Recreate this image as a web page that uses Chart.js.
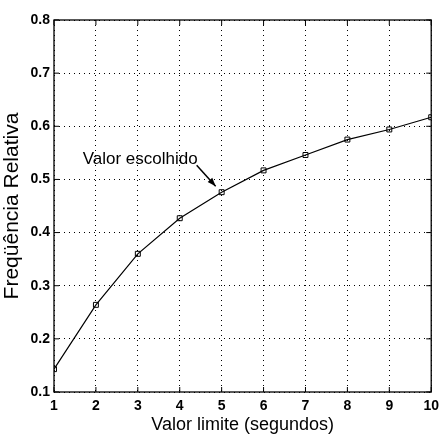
<!DOCTYPE html>
<html>
<head>
<meta charset="utf-8">
<script src="https://cdn.jsdelivr.net/npm/chart.js@4/dist/chart.umd.min.js"></script>
<style>
  html, body { margin: 0; padding: 0; background: #fff; }
  #wrap { width: 445px; height: 437px; }
</style>
</head>
<body>
<div id="wrap"><canvas id="freq-chart"></canvas></div>
<script>
// limite em segundos e frequência relativa correspondente
const limites = [1, 2, 3, 4, 5, 6, 7, 8, 9, 10];
const frequencias = [0.143, 0.264, 0.360, 0.427, 0.476, 0.517, 0.546, 0.575, 0.594, 0.617];
const yTicks = [0.1, 0.2, 0.3, 0.4, 0.5, 0.6, 0.7, 0.8];
// ponto marcado como valor escolhido
const escolhido = 5;

const fonte = "'Liberation Sans Narrow', 'Liberation Sans', Arial, sans-serif";

// moldura, marcas internas dos eixos e a seta com o texto
const moldura = {
  id: "moldura",
  afterDatasetsDraw(chart) {
    const { ctx, chartArea: a, scales } = chart;
    ctx.save();
    ctx.strokeStyle = "#000";
    ctx.lineWidth = 1.3;
    ctx.strokeRect(a.left, a.top, a.right - a.left, a.bottom - a.top);

    ctx.lineWidth = 1;
    ctx.beginPath();
    limites.forEach((v) => {
      const x = scales.x.getPixelForValue(v);
      ctx.moveTo(x, a.bottom); ctx.lineTo(x, a.bottom - 5);
      ctx.moveTo(x, a.top); ctx.lineTo(x, a.top + 5);
    });
    yTicks.forEach((v) => {
      const y = scales.y.getPixelForValue(v);
      ctx.moveTo(a.left, y); ctx.lineTo(a.left + 5, y);
      ctx.moveTo(a.right, y); ctx.lineTo(a.right - 5, y);
    });
    ctx.stroke();

    // seta apontando para o valor escolhido
    const i = limites.indexOf(escolhido);
    const px = scales.x.getPixelForValue(escolhido) - 6;
    const py = scales.y.getPixelForValue(frequencias[i]) - 6;
    const sx = px - 19, sy = py - 21;
    ctx.lineWidth = 1.5;
    ctx.beginPath();
    ctx.moveTo(sx, sy); ctx.lineTo(px, py);
    ctx.stroke();
    const ang = Math.atan2(py - sy, px - sx);
    ctx.beginPath();
    ctx.moveTo(px, py);
    ctx.lineTo(px - 9 * Math.cos(ang - 0.35), py - 9 * Math.sin(ang - 0.35));
    ctx.lineTo(px - 9 * Math.cos(ang + 0.35), py - 9 * Math.sin(ang + 0.35));
    ctx.closePath();
    ctx.fillStyle = "#000";
    ctx.fill();

    ctx.font = "17px " + fonte;
    ctx.textAlign = "right";
    ctx.textBaseline = "alphabetic";
    ctx.fillText("Valor escolhido", sx + 1, sy - 1);
    ctx.restore();
  },
};

const config = {
  type: "line",
  data: {
    datasets: [
      {
        data: limites.map((x, i) => ({ x: x, y: frequencias[i] })),
        borderColor: "#000",
        borderWidth: 1.2,
        pointStyle: "rect",
        pointRadius: 3.5,
        pointBorderWidth: 1,
        pointBackgroundColor: "rgba(255,255,255,0)",
        pointBorderColor: "#000",
        fill: false,
        tension: 0,
      },
    ],
  },
  options: {
    responsive: true,
    maintainAspectRatio: false,
    animation: false,
    layout: { padding: { top: 20, right: 6, left: 0, bottom: 0 } },
    plugins: {
      legend: { display: false },
      tooltip: { enabled: false },
    },
    scales: {
      x: {
        type: "linear",
        min: 1,
        max: 10,
        afterBuildTicks: (s) => { s.ticks = limites.map((v) => ({ value: v })); },
        afterFit: (s) => { s.height = 45; },
        border: { display: false, dash: [1, 4] },
        grid: { color: "#000", lineWidth: 1, drawTicks: false },
        ticks: {
          color: "#000",
          padding: 6,
          maxRotation: 0,
          font: { family: fonte, size: 14, weight: "bold" },
        },
        title: {
          display: true,
          text: "Valor limite (segundos)",
          color: "#000",
          padding: { top: 0, bottom: 1 },
          font: { family: fonte, size: 18 },
        },
      },
      y: {
        min: 0.1,
        max: 0.8,
        afterBuildTicks: (s) => { s.ticks = yTicks.map((v) => ({ value: v })); },
        afterFit: (s) => { s.width = 54; },
        border: { display: false, dash: [1, 4] },
        grid: { color: "#000", lineWidth: 1, drawTicks: false },
        ticks: {
          color: "#000",
          padding: 4,
          callback: (v) => v.toFixed(1),
          font: { family: fonte, size: 14, weight: "bold" },
        },
        title: {
          display: true,
          text: "Freqüência Relativa",
          color: "#000",
          padding: { top: 0, bottom: 0 },
          font: { family: "'Liberation Sans', Arial, sans-serif", size: 21 },
        },
      },
    },
  },
  plugins: [moldura],
};

new Chart(document.getElementById("freq-chart"), config);
</script>
</body>
</html>
